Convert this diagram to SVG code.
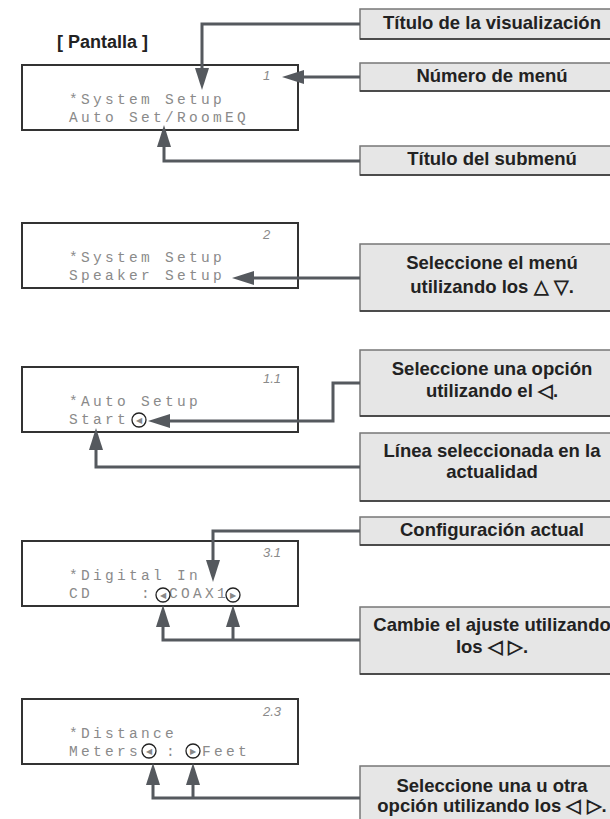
<svg xmlns="http://www.w3.org/2000/svg" width="610" height="819" viewBox="0 0 610 819">
<style>
.lcd{fill:#fff;stroke:#333;stroke-width:2}
.lt{font-family:"Liberation Mono",monospace;font-size:14.5px;letter-spacing:3.3px;fill:#8a8a8a}
.num{font-family:"Liberation Sans",sans-serif;font-size:13px;font-style:italic;fill:#8a8a8a}
.cur{fill:none;stroke:#222;stroke-width:1.3}
.ct{font-family:"DejaVu Sans",sans-serif;font-size:8px;fill:#888;text-anchor:middle}
.lb{fill:#e6e6e6;stroke:#777;stroke-width:1.5}
.lbb{stroke:#333;stroke-width:1.5}
.lbt{font-family:"Liberation Sans",Arial,sans-serif;font-size:18.5px;font-weight:bold;fill:#222;text-anchor:middle}
.con{fill:none;stroke:#55595e;stroke-width:3;marker-end:url(#ah)}
</style>
<defs>
<marker id="ah" markerUnits="userSpaceOnUse" markerWidth="22" markerHeight="14" refX="0" refY="7" orient="auto" viewBox="0 0 22 14">
<path d="M0,0 L22,7 L0,14 z" fill="#55595e"/>
</marker>
</defs>
<rect width="610" height="819" fill="#fff"/>
<text x="57" y="48" font-family="Liberation Sans,Arial,sans-serif" font-size="18" font-weight="bold" fill="#222">[ Pantalla ]</text>

<g id="display1">
<rect class="lcd" x="22" y="65" width="276" height="65"/>
<text class="num" x="263" y="80">1</text>
<text class="lt" x="69" y="104">*System Setup</text>
<text class="lt" x="69" y="122">Auto Set/RoomEQ</text>
</g>
<g id="display2">
<rect class="lcd" x="22" y="223" width="276" height="65"/>
<text class="num" x="263" y="239">2</text>
<text class="lt" x="69" y="262">*System Setup</text>
<text class="lt" x="69" y="280">Speaker Setup</text>
</g>
<g id="display3">
<rect class="lcd" x="22" y="367" width="276" height="65"/>
<text class="num" x="263" y="383">1.1</text>
<text class="lt" x="69" y="406">*Auto Setup</text>
<text class="lt" x="69" y="424">Start</text>
<circle class="cur" cx="139" cy="420" r="7"/>
<text class="ct" x="139" y="423">◀</text>
</g>
<g id="display4">
<rect class="lcd" x="22" y="541" width="276" height="65"/>
<text class="num" x="263" y="557">3.1</text>
<text class="lt" x="69" y="580">*Digital In</text>
<text class="lt" x="69" y="598">CD</text>
<text class="lt" x="141" y="598">:</text>
<text class="lt" x="169" y="598">COAX1</text>
<circle class="cur" cx="163" cy="595" r="7"/>
<text class="ct" x="163" y="598">◀</text>
<circle class="cur" cx="233" cy="595" r="7"/>
<text class="ct" x="233" y="598">▶</text>
</g>
<g id="display5">
<rect class="lcd" x="22" y="699" width="276" height="65"/>
<text class="num" x="263" y="716">2.3</text>
<text class="lt" x="69" y="738">*Distance</text>
<text class="lt" x="69" y="756">Meters</text>
<text class="lt" x="166" y="756">:</text>
<text class="lt" x="202" y="756">Feet</text>
<circle class="cur" cx="149" cy="751" r="7"/>
<text class="ct" x="149" y="754">◀</text>
<circle class="cur" cx="193" cy="751" r="7"/>
<text class="ct" x="193" y="754">▶</text>
</g>

<g id="label-titulo">
<rect class="lb" x="360" y="9" width="264" height="30"/>
<line class="lbb" x1="360" y1="39" x2="624" y2="39"/>
<text class="lbt" x="492" y="29">Título de la visualización</text>
</g>
<g id="label-numero">
<rect class="lb" x="360" y="63" width="264" height="28"/>
<line class="lbb" x1="360" y1="91" x2="624" y2="91"/>
<text class="lbt" x="492" y="82">Número de menú</text>
</g>
<g id="label-submenu">
<rect class="lb" x="360" y="146" width="264" height="29"/>
<line class="lbb" x1="360" y1="175" x2="624" y2="175"/>
<text class="lbt" x="492" y="165">Título del submenú</text>
</g>
<g id="label-menu">
<rect class="lb" x="360" y="244" width="264" height="67"/>
<line class="lbb" x1="360" y1="311" x2="624" y2="311"/>
<text class="lbt" x="492" y="269">Seleccione el menú</text>
<text class="lbt" x="492" y="293">utilizando los △ ▽.</text>
</g>
<g id="label-opcion">
<rect class="lb" x="360" y="350" width="264" height="66"/>
<line class="lbb" x1="360" y1="416" x2="624" y2="416"/>
<text class="lbt" x="492" y="375">Seleccione una opción</text>
<text class="lbt" x="492" y="397">utilizando el ◁.</text>
</g>
<g id="label-linea">
<rect class="lb" x="360" y="433" width="264" height="68"/>
<line class="lbb" x1="360" y1="501" x2="624" y2="501"/>
<text class="lbt" x="492" y="457">Línea seleccionada en la</text>
<text class="lbt" x="492" y="478">actualidad</text>
</g>
<g id="label-config">
<rect class="lb" x="360" y="517" width="264" height="28"/>
<line class="lbb" x1="360" y1="545" x2="624" y2="545"/>
<text class="lbt" x="492" y="536">Configuración actual</text>
</g>
<g id="label-cambie">
<rect class="lb" x="360" y="607" width="264" height="67"/>
<line class="lbb" x1="360" y1="674" x2="624" y2="674"/>
<text class="lbt" x="492" y="631">Cambie el ajuste utilizando</text>
<text class="lbt" x="492" y="653">los ◁ ▷.</text>
</g>
<g id="label-otra">
<rect class="lb" x="360" y="766" width="264" height="64"/>
<text class="lbt" x="492" y="792">Seleccione una u otra</text>
<text class="lbt" x="492" y="812">opción utilizando los ◁ ▷.</text>
</g>

<g id="connectors">
<path class="con" d="M360,24 H202 V68"/>
<path class="con" d="M360,77 H304"/>
<path class="con" d="M360,161 H164 V147"/>
<path class="con" d="M360,278 H254"/>
<path class="con" d="M360,383 H333 V421 H170"/>
<path class="con" d="M360,467 H96 V450"/>
<path class="con" d="M360,531 H213 V560"/>
<path class="con" d="M360,640 H163 V627"/>
<path class="con" d="M233,640 V627"/>
<path class="con" d="M360,798 H153 V785"/>
<path class="con" d="M193,798 V785"/>
</g>
</svg>
